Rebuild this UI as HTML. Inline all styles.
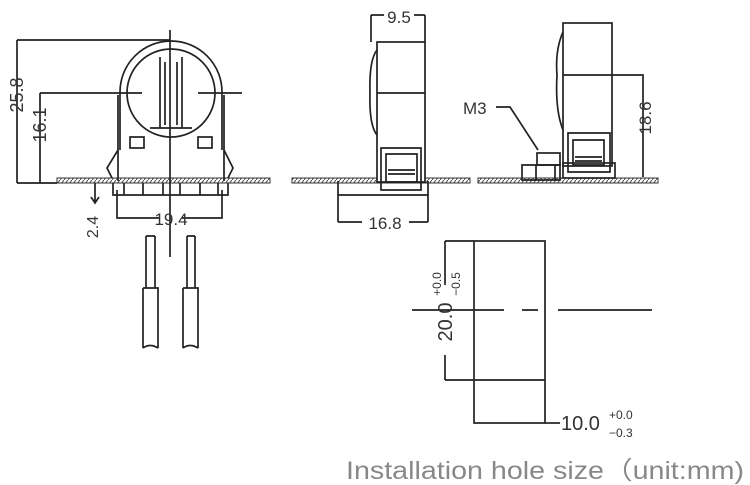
<!DOCTYPE html>
<html><head><meta charset="utf-8"><style>
html,body{margin:0;padding:0;background:#fff;width:750px;height:485px;overflow:hidden}
svg{display:block}
text{font-family:"Liberation Sans",sans-serif;fill:#333}
</style></head><body>
<svg width="750" height="485" viewBox="0 0 750 485" stroke="#222" stroke-width="1.7" fill="none">
<defs><pattern id="h" width="4" height="5" patternUnits="userSpaceOnUse"><path d="M0,5 L4,0" stroke="#444" stroke-width="1"/></pattern></defs>
<rect x="57" y="178" width="213" height="5" fill="url(#h)" stroke="#333" stroke-width="1"/>
<rect x="292" y="178" width="178" height="5" fill="url(#h)" stroke="#333" stroke-width="1"/>
<rect x="478" y="178" width="180" height="5" fill="url(#h)" stroke="#333" stroke-width="1"/>

<!-- LEFT VIEW -->
<path d="M17,40 H170 M17,40 V183 M17,183 H57"/>
<path d="M40,93 H142 M198,93 H242 M40,93 V183"/>
<path d="M120,150 V92 A50,50 0 0 1 222,92 V150"/>
<path d="M118,181 V95 M224,181 V95"/>
<circle cx="171" cy="93" r="44"/>
<path d="M160,57 V128 M182,57 V128 M165,62 V125 M177,62 V125 M150,128 H192"/>
<path d="M118,150 L107,168 L112,178 M224,150 L233,168 L228,178"/>
<rect x="130" y="137" width="14" height="11"/><rect x="198" y="137" width="14" height="11"/>
<path d="M113,183 V195 H228 V183 M124,183 V195 M143,183 V195 M163,183 V195 M180,183 V195 M200,183 V195 M218,183 V195"/>
<path d="M170,30 V257"/>
<path d="M117,190 V218 H160 M182,218 H222 V190"/>
<text x="171" y="225" font-size="17" text-anchor="middle" stroke="none">19.4</text>
<path d="M95,183 V202 M91,197 L95,203 L99,197"/>
<text transform="translate(98,227) rotate(-90)" font-size="16" text-anchor="middle" stroke="none">2.4</text>
<text transform="translate(23,95) rotate(-90)" font-size="18" text-anchor="middle" stroke="none">25.8</text>
<text transform="translate(46,125) rotate(-90)" font-size="18" text-anchor="middle" stroke="none">16.1</text>
<path d="M146,236 V288 M155,236 V288 M146,236 H155 M143,288 H158 V348 M143,288 V348 M143,348 Q150,343 158,348"/>
<path d="M187,236 V288 M195,236 V288 M187,236 H195 M183,288 H198 V348 M183,288 V348 M183,348 Q190,343 198,348"/>

<!-- MIDDLE VIEW -->
<rect x="377" y="42" width="48" height="140" fill="#fff"/>
<path d="M377,93 H425 M377,50 Q369,60 370,93 Q369,125 377,135"/>
<path d="M381,148 H421 V190 H381 Z M386,154 H417 V182 H386 Z M388,170 H415 M388,174 H415"/>
<path d="M371,15 V42 M425,15 V42 M371,15 H384 M414,15 H425"/>
<text x="399" y="23" font-size="17" text-anchor="middle" stroke="none">9.5</text>
<path d="M338,181 V222 M428,181 V222 M338,195 H428 M338,222 H362 M409,222 H428"/>
<text x="385" y="229" font-size="17" text-anchor="middle" stroke="none">16.8</text>

<!-- RIGHT VIEW -->
<rect x="563" y="23" width="49" height="143" fill="#fff"/>
<path d="M563,32 Q555,50 557,75 Q555,110 563,130"/>
<path d="M563,75 H643 V177"/>
<text transform="translate(651,118) rotate(-90)" font-size="17" text-anchor="middle" stroke="none">18.6</text>
<path d="M568,133 H610 V172 H568 Z M573,140 H604 V165 H573 Z M575,157 H602 M575,161 H602"/>
<rect x="563" y="163" width="52" height="15"/>
<rect x="537" y="153" width="23" height="12"/>
<path d="M522,165 H560 V180 H522 Z M536,165 V180 M555,165 V180"/>
<text x="463" y="114" font-size="17" stroke="none">M3</text>
<path d="M496,107 H510 L538,150"/>

<!-- HOLE -->
<rect x="474" y="241" width="71" height="182"/>
<path d="M445,241 H474 M445,380 H545 M445,241 V285 M445,355 V380"/>
<path d="M412,310 H504 M522,310 H538 M558,310 H652"/>
<path d="M545,423 H560"/>
<text transform="translate(452,322) rotate(-90)" font-size="20" text-anchor="middle" stroke="none">20.0</text>
<text transform="translate(441,284) rotate(-90)" font-size="12" text-anchor="middle" stroke="none">+0.0</text>
<text transform="translate(460,284) rotate(-90)" font-size="12" text-anchor="middle" stroke="none">−0.5</text>
<text x="561" y="430" font-size="20" stroke="none">10.0</text>
<text x="609" y="419" font-size="12" stroke="none">+0.0</text>
<text x="609" y="437" font-size="12" stroke="none">−0.3</text>

<text x="346" y="479" font-size="25" textLength="398" lengthAdjust="spacingAndGlyphs" style="fill:#888" stroke="none">Installation hole size（unit:mm)</text>
</svg>
</body></html>
